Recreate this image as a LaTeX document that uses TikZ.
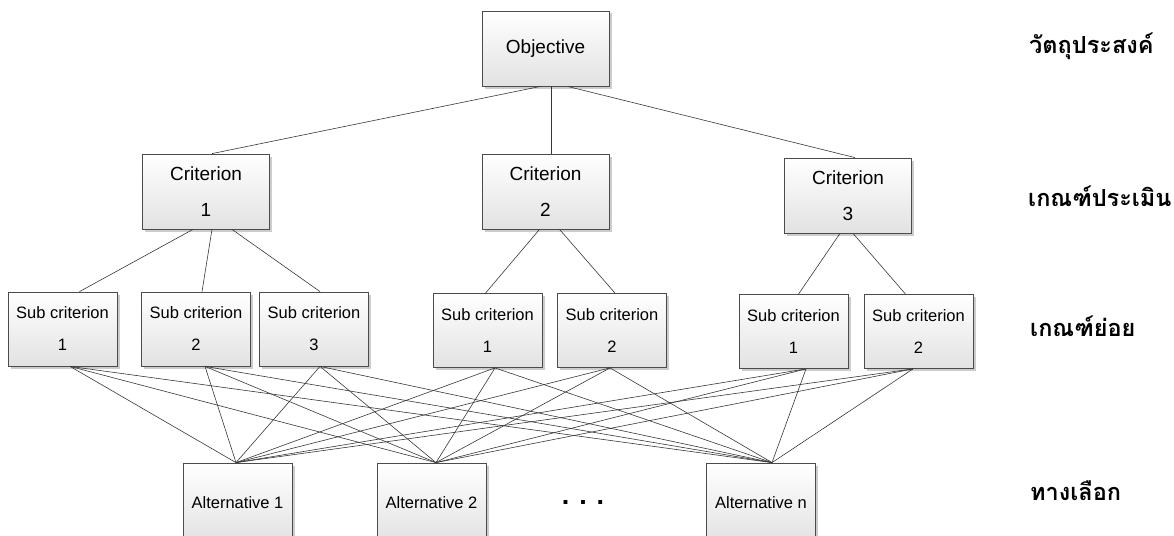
\documentclass[tikz,border=0pt]{standalone}
\usepackage{fontspec}
\setmainfont{Liberation Sans}
\newfontfamily\thaifont[Script=Thai]{Loma}
\usetikzlibrary{shadows}
\definecolor{boxline}{RGB}{75,75,75}
\definecolor{boxshade}{RGB}{226,226,226}
\definecolor{linkgray}{RGB}{55,55,55}

\tikzset{
  hbox/.style={draw=boxline, line width=0.8pt, top color=white, bottom color=boxshade,
    drop shadow={shadow xshift=2.5pt, shadow yshift=-2.5pt, fill=black!20, opacity=1},
    align=center, inner sep=0pt},
  topbox/.style={hbox, minimum width=127pt, minimum height=75pt, font=\fontsize{19}{36}\selectfont},
  subbox/.style={hbox, minimum width=109pt, minimum height=74pt, font=\fontsize{16.5}{32}\selectfont},
  altbox/.style={hbox, minimum width=109pt, minimum height=80pt, font=\fontsize{16.5}{20}\selectfont},
  link/.style={draw=linkgray, line width=0.6pt},
  tier/.style={font=\thaifont\bfseries\fontsize{23.5}{28}\selectfont, anchor=west, inner sep=0pt}
}

\begin{document}
\begin{tikzpicture}[x=1pt, y=-1pt]
            \useasboundingbox (0,0) rectangle (1174,535);
            \clip (0,0) rectangle (1174,535);

            % Objective
            \node[topbox] (obj) at (545.5,48.5) {Objective};

            % Criteria
            \node[topbox] (c1) at (206,191.5) {Criterion\\1};
            \node[topbox] (c2) at (545.5,191.5) {Criterion\\2};
            \node[topbox] (c3) at (848,195.5) {Criterion\\3};

            % Sub criteria
            \node[subbox] (s11) at (62.5,329) {Sub criterion\\1};
            \node[subbox] (s12) at (196,329) {Sub criterion\\2};
            \node[subbox] (s13) at (314,329) {Sub criterion\\3};
            \node[subbox] (s21) at (487.5,330.5) {Sub criterion\\1};
            \node[subbox] (s22) at (612,330.5) {Sub criterion\\2};
            \node[subbox] (s31) at (793.5,331.5) {Sub criterion\\1};
            \node[subbox] (s32) at (918.5,331.5) {Sub criterion\\2};

            % Alternatives
            \node[altbox] (alt1) at (237.5,503) {Alternative 1};
            \node[altbox] (alt2) at (431.5,503) {Alternative 2};
            \node[altbox] (altn) at (761,503) {Alternative n};
            \node[font=\bfseries\fontsize{27}{27}\selectfont] (dots) at (583,502) {. . .};

            % Level names
            \node[tier] (lv1) at (1029,46) {วัตถุประสงค์};
            \node[tier] (lv2) at (1028,196) {เกณฑ์ประเมิน};
            \node[tier] (lv3) at (1030,326) {เกณฑ์ย่อย};
            \node[tier] (lv4) at (1030,491) {ทางเลือก};

            % Objective to criteria
            \draw[link] ([xshift=-5]obj.south) -- ([xshift=6]c1.north);
            \draw[link] ([xshift=5.5]obj.south) -- ([xshift=5.5]c2.north);
            \draw[link] ([xshift=22]obj.south) -- ([xshift=7]c3.north);

            % Criteria to sub criteria
            \foreach \p/\px/\c/\cx in {c1/-13/s11/17, c1/6/s12/6, c1/26/s13/6,
                c2/-6/s21/-2, c2/14/s22/3, c3/-8/s31/5, c3/5/s32/-13}
              \draw[link] ([xshift=\px]\p.south) -- ([xshift=\cx]\c.north);

            % Sub criteria to alternatives
            \foreach \s/\sx in {s11/7.5, s12/9, s13/6, s21/7.5, s22/-2, s31/12.5, s32/-5.5}
              \foreach \a/\ax in {alt1/-1.5, alt2/4.5, altn/11}
                \draw[link] ([xshift=\sx]\s.south) -- ([xshift=\ax]\a.north);
        \end{tikzpicture}
\end{document}
